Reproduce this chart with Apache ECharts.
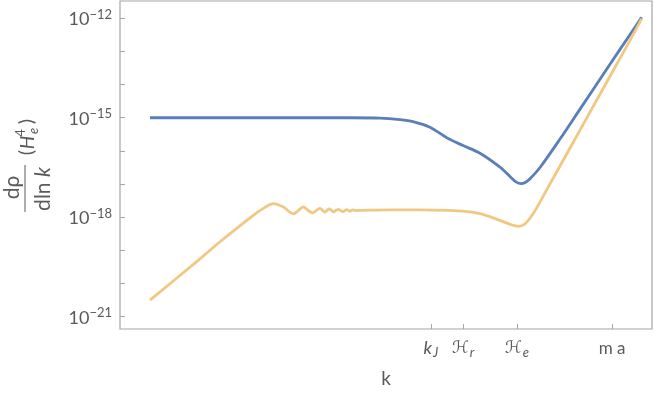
<!DOCTYPE html>
<html>
<head>
<meta charset="utf-8">
<script src="https://cdn.jsdelivr.net/npm/echarts@6/dist/echarts.min.js"></script>
<style>
html,body{margin:0;padding:0;background:#fff;}
#chart{width:654px;height:395px;}
</style>
</head>
<body>
<div id="chart"></div>
<script>
// x: log k (arbitrary units), y: log10 of dρ/dln k in units of H_e^4
const blueX = [0.902, 3.910, 6.917, 7.820, 8.421, 8.812, 9.323, 9.835, 10.316, 10.827, 11.429, 11.729, 11.910, 12.060, 12.211, 12.331, 12.632, 13.233, 13.835, 14.436, 15.038, 15.690];
const blueLog = [-15.00, -15.00, -15.00, -15.01, -15.057, -15.117, -15.288, -15.607, -15.838, -16.070, -16.491, -16.770, -16.935, -16.989, -16.935, -16.839, -16.500, -15.643, -14.741, -13.840, -12.938, -11.97];

const yellowX = [0.902, 2.406, 3.008, 4.009, 4.361, 4.611, 4.902, 5.212, 5.353, 5.513, 5.654, 5.795, 5.910, 6.015, 6.090, 6.165, 6.226, 6.295, 6.361, 6.430, 6.496, 6.565, 6.641, 6.716, 6.767, 6.818, 6.869, 6.917, 6.968, 7.017, 7.098, 7.308, 8.120, 9.023, 9.826, 10.376, 10.827, 11.429, 11.729, 11.979, 12.180, 12.331, 12.481, 12.632, 12.782, 12.932, 13.233, 13.534, 14.135, 14.737, 15.338, 15.690];
const yellowLog = [-20.497, -19.256, -18.739, -17.942, -17.702, -17.591, -17.687, -17.897, -17.807, -17.687, -17.792, -17.867, -17.792, -17.732, -17.792, -17.846, -17.792, -17.747, -17.792, -17.837, -17.792, -17.762, -17.801, -17.831, -17.792, -17.771, -17.798, -17.816, -17.792, -17.780, -17.798, -17.792, -17.777, -17.777, -17.792, -17.822, -17.891, -18.093, -18.213, -18.273, -18.198, -18.027, -17.807, -17.536, -17.266, -16.996, -16.455, -15.914, -14.832, -13.750, -12.668, -12.01];

const xTickValues = [9.35, 10.32, 11.94, 14.80];
const xTickLabels = ['{i|k}{sub|J}', '{h|ℋ}{sub|r}', '{h|ℋ}{sub|e}', '{n|m a}'];
const yMinorTicks = [-21, -20, -19, -18, -17, -16, -15, -14, -13, -12];
const yLabelTicks = [-21, -18, -15, -12];

const blueData = blueX.map((x, i) => [x, blueLog[i]]);
const yellowData = yellowX.map((x, i) => [x, yellowLog[i]]);

const txt = '#5a5a5a';
const frame = '#a6a6a6';
const FF = 'Lato, "Open Sans", sans-serif';

const chart = echarts.init(document.getElementById('chart'), null, {renderer: 'canvas'});
chart.setOption({
  animation: false,
  grid: {left: 120, right: 2, top: 1, bottom: 66, show: true, borderColor: frame, borderWidth: 1.2, backgroundColor: 'transparent'},
  xAxis: {
    type: 'value', min: 0, max: 16,
    name: 'k', nameLocation: 'middle', nameGap: 40,
    nameTextStyle: {color: txt, fontSize: 19, fontFamily: FF},
    axisLine: {show: false},
    splitLine: {show: false},
    axisTick: {show: true, inside: true, length: 5, customValues: xTickValues, lineStyle: {color: frame, width: 1}},
    axisLabel: {
      customValues: xTickValues, margin: 8, color: txt,
      formatter: function (v) {
        let best = 0;
        for (let i = 0; i < xTickValues.length; i++) if (Math.abs(xTickValues[i] - v) < Math.abs(xTickValues[best] - v)) best = i;
        return xTickLabels[best];
      },
      rich: {
        i: {fontSize: 18, fontStyle: 'italic', fontFamily: FF, color: txt, verticalAlign: 'bottom', lineHeight: 20},
        h: {fontSize: 17, fontStyle: 'italic', fontFamily: '"DejaVu Sans", sans-serif', color: txt, verticalAlign: 'bottom', lineHeight: 20},
        sub: {fontSize: 13, fontStyle: 'italic', fontFamily: FF, color: txt, verticalAlign: 'bottom', lineHeight: 14, padding: [0, 0, -2, 1]},
        n: {fontSize: 17, fontFamily: FF, color: txt, verticalAlign: 'bottom', lineHeight: 20}
      }
    }
  },
  yAxis: {
    type: 'value', min: -21.37, max: -11.48,
    axisLine: {show: false},
    splitLine: {show: false},
    axisTick: {show: true, inside: true, length: 5, customValues: yMinorTicks, lineStyle: {color: frame, width: 1}},
    axisLabel: {
      customValues: yLabelTicks, margin: 8, color: txt,
      formatter: function (v) { return '{b|10}{s|−' + Math.round(Math.abs(v)) + '}'; },
      rich: {
        b: {fontSize: 18, fontFamily: FF, color: txt, verticalAlign: 'bottom', lineHeight: 20, padding: [6, 0, 0, 0]},
        s: {fontSize: 13, fontFamily: FF, color: txt, verticalAlign: 'top', lineHeight: 14, padding: [0, 0, 6, 0]}
      }
    }
  },
  graphic: [{
    type: 'group', x: 25, y: 164.5, rotation: Math.PI / 2,
    children: [
      {type: 'text', x: -23, y: -13, style: {text: 'dρ', font: '21px ' + FF, fill: txt, align: 'center', verticalAlign: 'middle'}},
      {type: 'line', shape: {x1: -47.5, y1: 0, x2: -0.5, y2: 0}, style: {stroke: txt, lineWidth: 1}},
      {type: 'text', x: -24.5, y: 18.5, style: {text: 'dln {k|k}', font: '21px ' + FF, fill: txt, align: 'center', verticalAlign: 'middle', rich: {k: {fontStyle: 'italic', fontSize: 21, fontFamily: FF, fill: txt}}}},
      {type: 'text', x: 12, y: 2, style: {text: '(', font: '20px ' + FF, fill: txt, align: 'center', verticalAlign: 'middle'}},
      {type: 'text', x: 22, y: 3, style: {text: 'H', font: 'italic 19px ' + FF, fill: txt, align: 'center', verticalAlign: 'middle'}},
      {type: 'text', x: 31.5, y: -4, style: {text: '4', font: '13px ' + FF, fill: txt, align: 'center', verticalAlign: 'middle'}},
      {type: 'text', x: 33.5, y: 8.5, style: {text: 'e', font: 'italic 13px ' + FF, fill: txt, align: 'center', verticalAlign: 'middle'}},
      {type: 'text', x: 43, y: 2, style: {text: ')', font: '20px ' + FF, fill: txt, align: 'center', verticalAlign: 'middle'}}
    ]
  }],
  series: [
    {type: 'line', data: blueData, showSymbol: false, smooth: 0.3, lineStyle: {color: '#5a7fb8', width: 2.8}, itemStyle: {color: '#5a7fb8'}},
    {type: 'line', data: yellowData, showSymbol: false, smooth: 0.3, lineStyle: {color: '#f0c882', width: 2.8}, itemStyle: {color: '#f0c882'}}
  ]
});
</script>
</body>
</html>
